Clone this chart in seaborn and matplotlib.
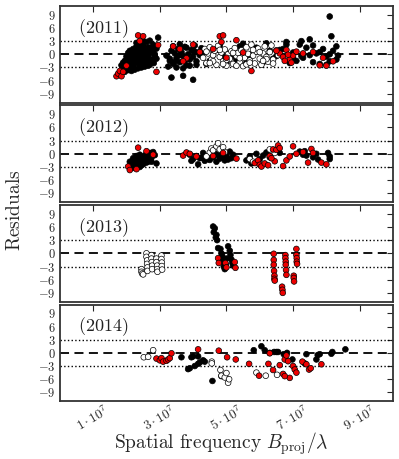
import numpy as np
import pandas as pd
import matplotlib.pyplot as plt
import seaborn as sns

sns.set_style('white')
plt.rcParams['mathtext.fontset'] = 'cm'
plt.rcParams['font.family'] = ['DejaVu Serif', 'DejaVu Sans']

# spatial frequency in units of 1e7, residuals
# --- 2011 ---
x11_black = [1.85, 1.9, 1.95, 2.0, 2.0, 2.05, 2.05, 2.1, 2.1, 2.1, 2.15, 2.15, 2.2, 2.2, 2.2, 2.25, 2.25, 2.3, 2.3, 2.3,
             2.35, 2.35, 2.4, 2.4, 2.4, 2.45, 2.45, 2.5, 2.5, 2.5, 2.55, 2.55, 2.6, 2.6, 2.6, 2.65, 2.65, 2.7, 2.7, 2.75,
             2.75, 2.8, 2.8, 2.85, 2.9, 2.95, 2.05, 2.15, 2.25, 2.35, 2.45, 2.55, 2.65, 2.3, 2.5, 2.7, 1.95, 2.1, 2.4, 2.6,
             2.0, 2.12, 2.28, 2.42, 2.58, 2.72, 2.85, 2.18, 2.38, 2.62, 2.78, 2.9, 1.9, 2.05, 2.32, 2.48, 2.68, 2.82,
             3.2, 3.3, 3.35, 3.4, 3.45, 3.5, 3.55, 3.6, 3.65, 3.7, 3.75, 3.8, 3.85, 3.9, 3.95, 4.0, 4.05, 4.1, 4.15, 4.2,
             4.25, 3.25, 3.5, 3.7, 3.9, 4.1, 3.4, 3.6, 3.8, 4.0, 3.35, 3.7, 4.0, 3.3, 3.6, 3.45, 3.75, 4.05,
             4.3, 4.5, 4.7, 4.9, 5.1, 5.3, 5.5, 5.7, 5.9, 6.1, 6.3, 6.5, 6.7, 4.4, 4.8, 5.2, 5.6, 6.0, 6.4, 6.8,
             4.6, 5.4, 6.2, 5.0, 5.8,
             6.6, 6.8, 7.0, 7.1, 7.2, 7.25, 7.3, 7.4, 7.5, 7.6, 7.7, 7.8, 7.9, 8.0, 8.1, 8.2, 8.3, 8.35, 7.0, 7.3,
             7.5, 7.8, 8.1, 8.3, 6.9, 7.6, 8.0, 8.1, 8.15, 7.25]
y11_black = [-2.5, -3.2, -1.5, -2.8, -0.5, -1.8, 0.3, -3.4, -1.0, 0.8, -2.2, 0.1, -1.5, 1.2, -3.0, -0.4, 0.9, -2.0, 0.4, 1.8,
             -1.0, 2.4, -2.6, -0.2, 1.5, 0.6, -1.4, -0.8, 2.0, -2.2, 0.3, 1.1, -1.6, 0.9, 2.8, -0.6, 1.6, -2.4, 0.2, 1.0,
             -1.2, 0.5, 2.2, -0.3, 1.3, 3.8, -3.6, -3.8, -3.5, -3.2, -3.0, -2.8, -2.6, 2.6, 3.0, 3.1, -4.0, -0.9, 0.0, -0.1,
             -1.2, -0.4, 0.0, 1.0, 0.4, -1.6, 0.0, -2.6, -1.8, -0.9, 1.6, -1.0, -1.9, -2.4, -1.3, 0.2, 1.2, -2.0,
             -0.3, -1.5, 0.8, -2.2, 0.2, -0.9, 1.2, -1.8, 0.5, -0.4, 1.7, -2.5, 0.0, -1.2, 1.0, -0.6, 2.0, -1.6, 0.4, -0.2,
             1.4, -2.8, -3.0, -3.2, -2.6, -2.4, 1.8, 2.3, 1.5, 0.9, -5.3, -4.9, -5.8, -1.0, -0.2, -1.7, -1.4, 0.6,
             0.5, -1.5, 1.0, -0.8, 0.2, -1.2, 2.4, -0.5, 1.5, -1.8, 0.8, -0.4, 1.2, -2.2, 2.0, -0.3, -1.9, 0.6, -1.0, 2.2,
             -0.1, 1.8, 2.5, -2.0, 0.3,
             1.0, 2.8, 0.4, -1.5, 2.2, 3.0, -0.8, 1.5, 3.4, -1.8, 0.2, -2.2, 1.2, -0.5, -1.6, 0.8, 1.8, -0.3, -1.0, 0.0,
             -0.2, 0.5, 0.0, -1.2, -2.0, 2.0, -2.4, 8.6, 4.1, -0.4]
x11_white = [4.3, 4.35, 4.4, 4.45, 4.5, 4.55, 4.6, 4.65, 4.7, 4.75, 4.8, 4.85, 4.9, 4.95, 5.0, 5.05, 5.1, 5.15, 5.2, 5.25,
             5.3, 5.35, 5.4, 5.45, 5.5, 5.55, 5.6, 5.65, 5.7, 5.75, 5.8, 5.85, 5.9, 5.95, 6.0, 6.05, 6.1, 6.15, 6.2, 6.25,
             6.3, 6.35, 6.4, 6.5, 6.55, 4.4, 4.6, 4.8, 5.0, 5.2, 5.4, 5.6, 5.8, 6.0, 6.2, 4.5, 4.9, 5.3, 5.7, 6.1, 6.4]
y11_white = [-0.8, 1.2, -2.0, 0.2, 1.6, -1.2, -0.2, 0.8, -2.4, 1.9, -0.6, 0.4, -1.6, 1.1, -2.6, 0.0, -1.0, 0.7, -2.2, 1.4,
             -0.4, 0.3, -1.8, 0.9, -2.7, -0.8, 1.6, 0.1, -1.4, 2.2, -0.3, -2.1, 0.6, 1.3, -1.0, -2.4, 0.2, 1.8, -0.6, -1.7,
             0.5, 2.0, -1.2, 0.9, -0.2, 0.6, -1.6, 1.0, -1.3, 0.3, -0.9, -2.3, 1.0, 0.5, -1.1, -2.0, -2.2, -2.6, -1.9, -1.5, -2.1]
x11_red = [1.7, 1.75, 1.8, 1.85, 1.9, 2.35, 2.5, 2.4, 2.9, 2.95, 3.4, 3.6, 3.8, 4.0, 4.2, 3.7, 4.8,
           4.9, 5.3, 4.85, 5.75, 4.6, 5.0, 5.5, 6.6, 6.7, 6.8, 6.9, 7.0, 7.1, 6.75, 6.85, 7.6, 7.8, 7.9, 8.0, 8.2,
           7.3, 6.5, 6.95, 2.0]
y11_red = [-5.0, -4.4, -3.8, -5.0, -4.0, 4.3, 4.1, 3.0, -4.0, 2.1, 1.8, 1.2, -0.9, 2.2, 0.5, -1.6, 4.1,
           4.3, 3.2, 2.8, -3.8, 1.2, -0.8, 0.4, 0.2, -0.6, 1.0, -1.2, -0.3, 0.6, -1.5, -0.1, 0.5, -2.5, -0.8, -2.6, -1.6,
           0.2, 0.8, -1.9, -2.6]

# --- 2012 ---
x12_black = [2.1, 2.15, 2.2, 2.2, 2.25, 2.3, 2.3, 2.35, 2.4, 2.4, 2.45, 2.5, 2.5, 2.55, 2.6, 2.6, 2.65, 2.7, 2.7, 2.75,
             2.8, 2.85, 2.9, 2.2, 2.35, 2.5, 2.65, 2.4, 2.55, 2.3, 2.18, 2.28, 2.45, 2.6, 2.75,
             3.9, 4.0, 4.1, 4.15, 4.2, 4.3, 4.35, 4.4, 4.5, 4.55, 4.6, 4.7, 4.75, 4.8, 4.9, 4.95, 5.0, 5.1, 5.15, 5.2,
             4.25, 4.45, 4.65, 4.85, 5.05, 3.95,
             5.6, 5.7, 5.8, 5.9, 6.0, 6.1, 6.3, 6.6, 7.2, 7.3, 7.35, 7.4, 7.6, 7.7, 7.75, 8.05, 8.1, 8.1, 5.75, 6.2]
y12_black = [-1.8, -2.8, -1.0, -3.2, -2.0, -0.5, -2.6, -1.4, -0.2, -3.0, -1.8, -0.8, -2.4, -1.2, 0.0, -2.0, -0.6, -1.4, 0.2, -0.9,
             0.4, -0.3, -2.2, -2.2, -2.2, -1.6, -1.8, -0.9, -0.4, -1.2, -1.6, -3.0, -2.6, -1.0, -1.8,
             -0.2, -1.2, -0.5, -2.4, -1.0, 0.2, -1.6, -0.6, -1.4, 0.0, -0.8, -1.8, -0.3, -1.1, 0.3, -1.5, -0.4, 0.5, -1.0, -0.2,
             -0.9, -1.2, 0.1, -0.7, -1.3, -1.6,
             -1.5, -0.6, -2.0, 0.0, -1.2, -0.4, -0.8, 0.2, 0.5, -0.2, 0.6, -0.4, -0.8, 0.0, -1.3, 0.2, -0.6, -1.2, -2.2, 0.3]
x12_white = [4.5, 4.55, 4.6, 4.7, 4.75, 4.8, 4.9, 4.95, 4.4, 5.7, 5.8, 6.3, 6.45]
y12_white = [0.3, 1.2, 0.8, 1.7, 2.4, 1.0, 1.5, 0.4, -0.6, -1.2, -1.8, 1.0, 0.2]
x12_red = [2.05, 2.1, 2.3, 2.35, 2.6, 2.8, 3.7, 3.8, 3.9, 4.1, 4.6, 4.9, 5.3, 5.85, 5.95, 6.0, 6.05, 6.15, 6.3,
           6.4, 6.45, 6.5, 6.55, 6.7, 6.8, 6.9, 6.6, 7.0, 7.1, 7.3, 7.45, 7.55, 7.6, 7.85, 8.0, 6.35, 6.25]
y12_red = [-2.9, -3.7, -3.5, 1.4, 0.6, -0.2, -0.4, 0.3, 0.0, -0.6, -0.5, 0.2, -1.1, -2.1, -1.5, -2.5, -2.9, -2.2, -0.5,
           1.0, -1.7, 0.9, 1.9, -2.8, -1.5, -0.6, 1.3, 1.7, 0.0, 0.4, -2.0, 1.1, 0.2, -2.0, -2.4, -1.0, -2.6]

# --- 2013 ---
x13_black = [4.6, 4.65, 4.62, 4.7, 4.68, 4.72, 4.75, 4.82, 4.85, 4.88, 4.9, 4.92, 4.95, 4.98, 5.05, 5.1, 5.12, 5.15, 5.18, 5.2,
             5.0, 4.87]
y13_black = [6.1, 5.7, 4.8, 4.2, 3.6, 3.0, 1.2, 1.0, 0.0, -1.0, -2.0, -3.0, -3.6, -2.6, 1.6, 0.6, -0.4, -1.4, -2.2, -2.8,
             -1.2, -0.5]
x13_white = [2.45, 2.45, 2.47, 2.5, 2.6, 2.6, 2.62, 2.62, 2.63, 2.63, 2.75, 2.75, 2.76, 2.77, 2.77, 2.9, 2.9, 2.92, 2.92, 2.93,
             3.05, 3.05, 3.06, 3.06, 3.07]
y13_white = [-3.6, -4.2, -4.6, -4.8, 0.0, -0.8, -1.6, -2.4, -3.2, -4.0, -0.4, -1.2, -2.0, -2.8, -3.6, -1.2, -2.0, -2.8, -3.6, -4.2,
             -0.5, -1.3, -2.1, -2.9, -3.7]
x13_red = [4.75, 4.77, 4.97, 5.0, 5.25, 5.27, 6.42, 6.42, 6.42, 6.43, 6.44, 6.44, 6.45, 6.67, 6.68, 6.69, 6.77, 6.77, 6.78, 6.78,
           6.79, 6.8, 7.02, 7.02, 7.03, 7.1, 7.1, 7.11, 7.11, 7.12]
y13_red = [-1.1, -2.2, -2.2, -3.2, -2.0, -3.3, -0.1, -1.5, -2.6, -4.0, -5.1, -5.8, -6.2, -7.6, -8.3, -9.0, -0.4, -1.1, -1.9, -2.6,
           -3.8, -4.9, -5.1, -5.6, -6.4, 1.0, -0.4, -1.1, -1.9, -2.4]

# --- 2014 ---
x14_black = [3.65, 3.85, 3.95, 4.05, 4.15, 3.9, 4.0, 4.15, 4.2, 4.3, 4.35, 4.58, 4.85,
             5.82, 6.05, 6.15, 6.3, 6.43, 6.5, 6.55, 6.72, 6.82, 6.98, 7.35, 7.4, 7.7, 7.74, 7.8, 8.18, 8.15, 8.57]
y14_black = [-1.0, -3.7, -1.0, -3.0, -2.5, -3.5, -0.8, -0.8, -2.2, -1.7, -2.0, -6.4, -5.3,
             0.6, 1.5, 0.6, 0.0, 0.2, 0.2, 0.2, -0.3, 0.0, -1.5, -2.4, -0.3, -1.5, -0.5, -0.3, 0.2, -0.2, 0.8]
x14_white = [2.52, 2.65, 2.8, 4.56, 4.56, 4.82, 4.85, 4.95, 5.0, 5.05, 5.08, 5.9, 6.18, 6.52]
y14_white = [-1.0, -0.9, 0.6, -2.0, -2.4, -3.9, -5.2, -5.6, -4.6, -6.8, -6.0, -4.5, -5.2, -5.0]
x14_red = [2.9, 3.0, 3.05, 3.1, 3.2, 3.25, 3.3, 3.35, 4.15, 4.77, 5.02, 5.28, 5.68, 5.98,
           6.26, 6.3, 6.4, 6.6, 6.7, 6.75, 6.8, 6.85, 7.0, 7.05, 7.1, 6.9, 6.75, 7.28, 7.4, 7.48, 7.53, 7.85]
y14_red = [-1.3, -1.7, -1.2, -2.0, -1.8, -1.5, -1.2, -0.1, 0.8, 0.5, -1.0, -1.5, -2.5, -5.2,
           -2.5, -0.1, -3.9, -2.8, -4.8, -1.5, -0.6, -1.9, -3.0, -3.8, -4.5, -5.7, -5.3, -2.0, -2.6, -3.8, -3.5, -2.6]

years = ['2011', '2012', '2013', '2014']
series = {
    '2011': [('black', x11_black, y11_black), ('white', x11_white, y11_white), ('red', x11_red, y11_red)],
    '2012': [('black', x12_black, y12_black), ('white', x12_white, y12_white), ('red', x12_red, y12_red)],
    '2013': [('black', x13_black, y13_black), ('white', x13_white, y13_white), ('red', x13_red, y13_red)],
    '2014': [('black', x14_black, y14_black), ('white', x14_white, y14_white), ('red', x14_red, y14_red)],
}

rows = []
for yr in years:
    for kind, xs, ys in series[yr]:
        for xv, yv in zip(xs, ys):
            rows.append((yr, kind, xv * 1e7, yv))
df = pd.DataFrame(rows, columns=['year', 'kind', 'freq', 'resid'])

xticks = [1e7, 3e7, 5e7, 7e7, 9e7]
xticklabels = [r'$1\cdot10^7$', r'$3\cdot10^7$', r'$5\cdot10^7$', r'$7\cdot10^7$', r'$9\cdot10^7$']
yticks = [-9, -6, -3, 0, 3, 6, 9]
yticklabels = [r'$%d$' % v for v in yticks]

fig, axes = plt.subplots(4, 1, sharex=True, figsize=(3.99, 4.59), dpi=100)
fig.subplots_adjust(left=0.150, right=0.985, top=0.987, bottom=0.126, hspace=0.03)

pal = {'black': 'black', 'white': 'white', 'red': '#ee0000'}
for ax, yr in zip(axes, years):
    sub = df[df['year'] == yr]
    ax.axhline(0, color='black', ls=(0, (5, 3)), lw=1.3, zorder=1)
    ax.axhline(3, color='black', ls=':', lw=1.0, zorder=1)
    ax.axhline(-3, color='black', ls=':', lw=1.0, zorder=1)
    sns.scatterplot(data=sub, x='freq', y='resid', hue='kind', hue_order=['black', 'white', 'red'],
                    palette=pal, edgecolor='black', linewidth=0.5, s=17, legend=False, ax=ax, zorder=3)
    ax.set(xlabel='', ylabel='')
    ax.set_xlim(0, 1e8)
    ax.set_ylim(-11, 11)
    ax.set_yticks(yticks)
    ax.set_yticklabels(yticklabels)
    ax.set_xticks(xticks)
    ax.tick_params(direction='in', top=True, right=True, length=4, width=0.8, labelsize=9, pad=3)
    for sp in ax.spines.values():
        sp.set_color('#333333')
        sp.set_linewidth(1.3)
    ax.text(0.055, 0.77, r'$(%s)$' % yr, transform=ax.transAxes, fontsize=13, ha='left', va='center', color='#222222')

axes[-1].set_xticklabels(xticklabels, rotation=30, ha='center', fontsize=9.5)
axes[-1].tick_params(axis='x', pad=1)

fig.text(0.038, 0.542, r'$\mathrm{Residuals}$', rotation=90, fontsize=14, ha='center', va='center')
fig.text(0.554, 0.034, r'$\mathrm{Spatial\ frequency}\ B_\mathrm{proj}/\lambda$', fontsize=14, ha='center', va='center')

plt.savefig('out.png', dpi=100)
